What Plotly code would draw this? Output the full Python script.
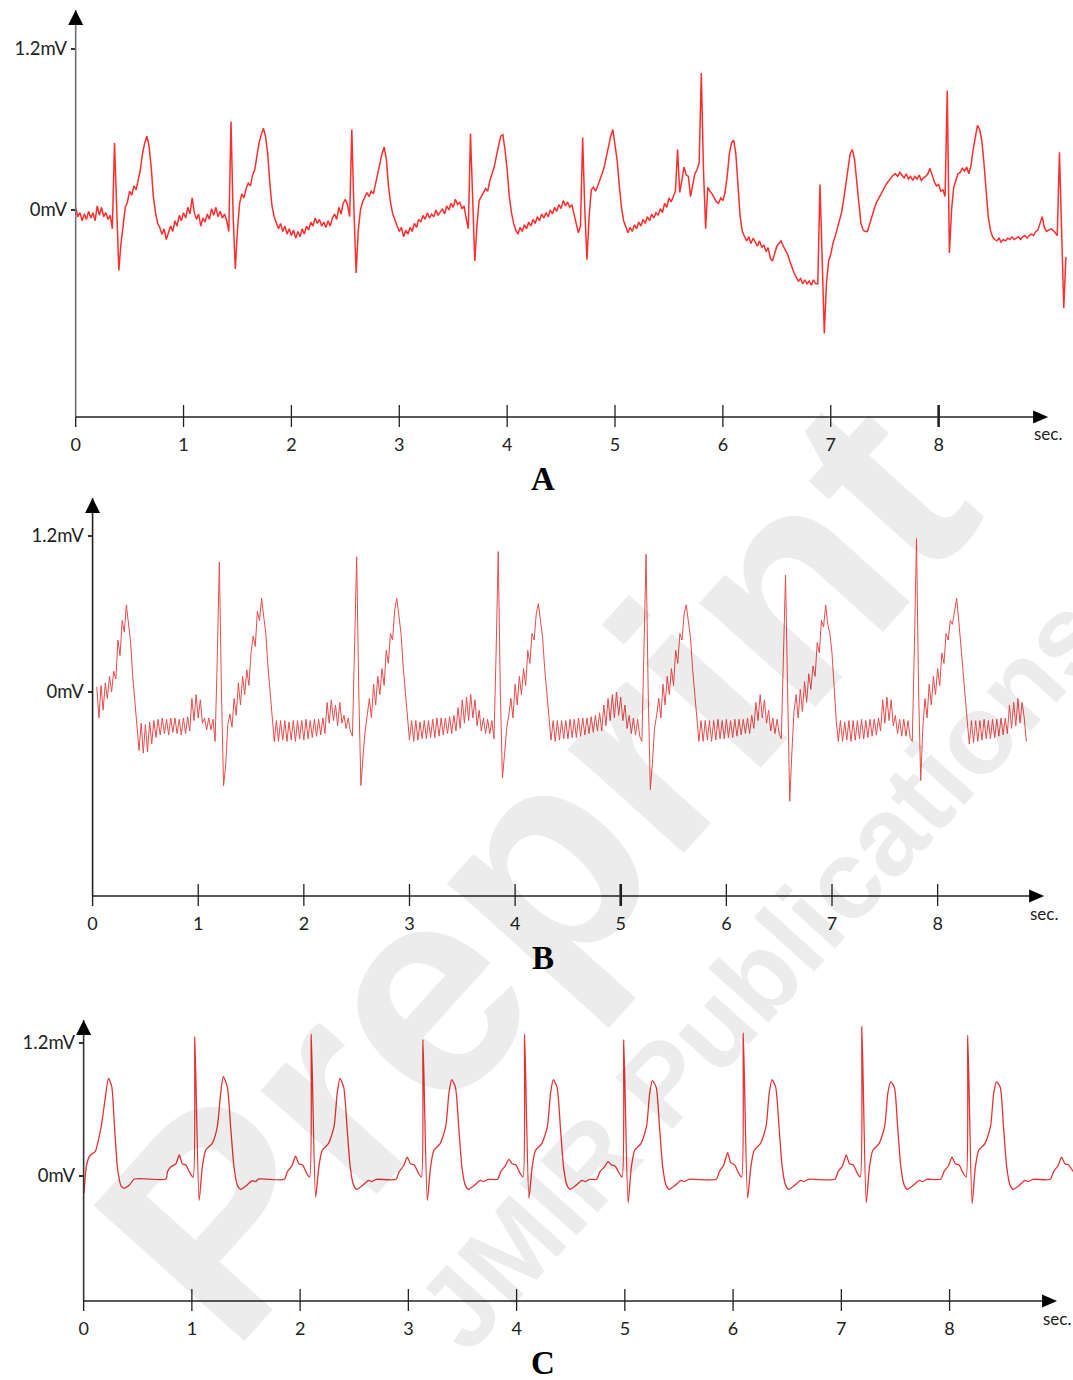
import numpy as np
import plotly.graph_objects as go

# ---------------- data (seconds, mV) ----------------
# Panel A: noisy ECG, sampled every 0.02 s starting at 0.00 s
a_start = 0.0
a_step = 0.02
a_mv = [
    0.02, -0.05, -0.02, -0.08, -0.03, -0.07, -0.01, -0.06, -0.02, -0.08,   # 0.00
    0.03, -0.04, 0.02, -0.05, -0.02, -0.07, -0.04, -0.14, 0.50, -0.02,     # 0.20
    -0.45, -0.25, -0.10, 0.02, 0.06, 0.14, 0.11, 0.18, 0.15, 0.22,         # 0.40
    0.30, 0.42, 0.50, 0.55, 0.48, 0.32, 0.10, -0.02, -0.10, -0.13,         # 0.60
    -0.18, -0.14, -0.22, -0.17, -0.12, -0.16, -0.08, -0.12, -0.04, -0.08,  # 0.80
    -0.02, -0.06, 0.02, -0.03, 0.09, -0.02, -0.07, -0.03, -0.12, -0.06,    # 1.00
    -0.09, -0.03, -0.07, 0.01, -0.04, 0.02, -0.05, -0.01, -0.06, -0.03,    # 1.20
    -0.08, -0.16, 0.66, -0.05, -0.44, -0.15, 0.05, 0.12, 0.09, 0.16,       # 1.40
    0.20, 0.18, 0.26, 0.30, 0.40, 0.50, 0.56, 0.61, 0.55, 0.42,            # 1.60
    0.20, 0.03, -0.05, -0.10, -0.14, -0.10, -0.16, -0.12, -0.18, -0.14,    # 1.80
    -0.19, -0.15, -0.21, -0.16, -0.20, -0.14, -0.18, -0.12, -0.15, -0.09,  # 2.00
    -0.12, -0.06, -0.10, -0.07, -0.12, -0.09, -0.13, -0.08, -0.12, -0.06,  # 2.20
    -0.03, -0.07, 0.02, -0.03, 0.05, 0.08, 0.04, -0.05, 0.60, 0.00,        # 2.40
    -0.47, -0.15, 0.00, 0.06, 0.10, 0.13, 0.10, 0.14, 0.12, 0.20,          # 2.60
    0.28, 0.35, 0.42, 0.47, 0.38, 0.18, 0.05, -0.03, -0.08, -0.12,         # 2.80
    -0.16, -0.13, -0.20, -0.15, -0.18, -0.13, -0.16, -0.10, -0.13, -0.07,  # 3.00
    -0.09, -0.04, -0.07, -0.02, -0.06, -0.03, -0.05, 0.00, -0.04, -0.01,   # 3.20
    0.01, -0.03, 0.03, 0.00, 0.05, 0.02, 0.08, 0.04, 0.06, 0.01,           # 3.40
    0.03, -0.06, -0.14, 0.57, 0.00, -0.38, -0.12, 0.07, 0.10, 0.13,        # 3.60
    0.16, 0.14, 0.22, 0.27, 0.32, 0.40, 0.48, 0.55, 0.56, 0.45,            # 3.80
    0.30, 0.10, -0.02, -0.10, -0.15, -0.18, -0.13, -0.16, -0.11, -0.14,    # 4.00
    -0.09, -0.12, -0.07, -0.10, -0.05, -0.08, -0.03, -0.06, -0.02, -0.05,  # 4.20
    0.00, -0.03, 0.02, -0.01, 0.04, 0.01, 0.07, 0.03, 0.06, 0.02,          # 4.40
    0.04, -0.03, -0.08, -0.17, -0.12, 0.54, 0.00, -0.37, -0.05, 0.15,      # 4.60
    0.17, 0.14, 0.18, 0.22, 0.27, 0.32, 0.40, 0.47, 0.55, 0.60,            # 4.80
    0.50, 0.37, 0.18, 0.02, -0.08, -0.13, -0.17, -0.13, -0.16, -0.11,      # 5.00
    -0.14, -0.09, -0.12, -0.07, -0.10, -0.05, -0.08, -0.03, -0.06, -0.02,  # 5.20
    -0.04, 0.01, -0.02, 0.05, 0.02, 0.09, 0.06, 0.10, 0.14, 0.45,          # 5.40
    0.13, 0.22, 0.32, 0.26, 0.25, 0.10, 0.20, 0.27, 0.30, 0.35,            # 5.60
    1.02, 0.30, -0.14, 0.17, 0.14, 0.12, 0.09, 0.06, 0.05, 0.09,           # 5.80
    0.07, 0.13, 0.25, 0.42, 0.50, 0.52, 0.42, 0.20, -0.05, -0.16,          # 6.00
    -0.19, -0.23, -0.20, -0.25, -0.21, -0.24, -0.27, -0.23, -0.28, -0.26,  # 6.20
    -0.31, -0.28, -0.36, -0.38, -0.33, -0.27, -0.25, -0.23, -0.27, -0.30,  # 6.40
    -0.33, -0.38, -0.43, -0.47, -0.50, -0.53, -0.51, -0.55, -0.52, -0.55,  # 6.60
    -0.53, -0.56, -0.52, -0.55, -0.55, 0.19, -0.35, -0.92, -0.55, -0.38,   # 6.80
    -0.33, -0.25, -0.20, -0.14, -0.08, -0.02, 0.08, 0.20, 0.32, 0.42,      # 7.00
    0.45, 0.38, 0.22, 0.05, -0.10, -0.15, -0.16, -0.16, -0.10, -0.05,      # 7.20
    0.00, 0.05, 0.08, 0.12, 0.15, 0.17, 0.20, 0.22, 0.24, 0.26,            # 7.40
    0.27, 0.25, 0.28, 0.26, 0.24, 0.27, 0.23, 0.25, 0.22, 0.25,            # 7.60
    0.23, 0.26, 0.22, 0.24, 0.25, 0.27, 0.31, 0.26, 0.21, 0.18,            # 7.80
    0.19, 0.14, 0.15, 0.10, 0.89, -0.32, 0.00, 0.17, 0.23, 0.27,           # 8.00
    0.28, 0.31, 0.29, 0.32, 0.27, 0.33, 0.45, 0.55, 0.63, 0.60,            # 8.20
    0.52, 0.35, 0.12, -0.05, -0.15, -0.20, -0.22, -0.23, -0.21, -0.24,     # 8.40
    -0.22, -0.23, -0.21, -0.22, -0.20, -0.22, -0.21, -0.20, -0.22, -0.20,  # 8.60
    -0.19, -0.21, -0.19, -0.18, -0.19, -0.16, -0.15, -0.10, -0.05, -0.13,  # 8.80
    -0.16, -0.15, -0.14, -0.15, -0.17, -0.19, 0.43, -0.25, -0.73, -0.35,   # 9.00
]

# Panel B: ECG with mains-type interference, sampled every 0.02 s starting at 0.04 s
b_start = 0.04
b_step = 0.02
b_mv = [
    0.04, -0.20, 0.05, -0.14, 0.07, -0.05, 0.12, 0.00,                     # 0.04
    0.16, 0.10, 0.40, 0.28, 0.55, 0.46, 0.67, 0.52, 0.38, 0.12,            # 0.20
    -0.05, -0.22, -0.45, -0.24, -0.47, -0.25, -0.46, -0.23, -0.40, -0.22,  # 0.40
    -0.35, -0.21, -0.33, -0.20, -0.32, -0.21, -0.33, -0.20, -0.31, -0.20,  # 0.60
    -0.32, -0.21, -0.33, -0.20, -0.32, -0.19, -0.30, -0.05, -0.22, -0.02,  # 0.80
    -0.20, -0.06, -0.24, -0.20, -0.29, -0.20, -0.29, -0.21, -0.38, 0.25,   # 1.00
    1.00, 0.00, -0.72, -0.57, -0.25, -0.17, -0.27, -0.05, -0.18, 0.07,     # 1.20
    -0.10, 0.12, -0.02, 0.17, 0.05, 0.30, 0.43, 0.35, 0.62, 0.55,          # 1.40
    0.72, 0.58, 0.45, 0.20, 0.00, -0.22, -0.38, -0.22, -0.38, -0.22,       # 1.60
    -0.37, -0.22, -0.38, -0.23, -0.37, -0.22, -0.38, -0.22, -0.36, -0.22,  # 1.80
    -0.37, -0.21, -0.36, -0.22, -0.35, -0.21, -0.34, -0.21, -0.33, -0.20,  # 2.00
    -0.32, -0.08, -0.24, -0.06, -0.22, -0.10, -0.26, -0.08, -0.24, -0.18,  # 2.20
    -0.28, -0.20, -0.30, -0.34, 0.30, 1.04, 0.00, -0.72, -0.50, -0.30,     # 2.40
    -0.18, -0.05, -0.20, 0.06, -0.10, 0.12, -0.02, 0.18, 0.05, 0.32,       # 2.60
    0.22, 0.45, 0.40, 0.63, 0.72, 0.58, 0.45, 0.20, 0.00, -0.22,           # 2.80
    -0.37, -0.22, -0.38, -0.22, -0.37, -0.23, -0.36, -0.22, -0.36, -0.22,  # 3.00
    -0.35, -0.21, -0.35, -0.20, -0.34, -0.20, -0.33, -0.20, -0.32, -0.19,  # 3.20
    -0.32, -0.18, -0.30, -0.12, -0.28, -0.06, -0.24, -0.04, -0.22, -0.02,  # 3.40
    -0.20, -0.06, -0.26, -0.14, -0.30, -0.20, -0.32, -0.21, -0.32, -0.22,  # 3.60
    -0.36, 0.30, 1.08, 0.00, -0.66, -0.48, -0.28, -0.18, -0.05, -0.20,     # 3.80
    0.06, -0.10, 0.12, -0.02, 0.18, 0.05, 0.32, 0.22, 0.45, 0.40,          # 4.00
    0.60, 0.68, 0.56, 0.42, 0.18, 0.00, -0.22, -0.37, -0.22, -0.38,        # 4.20
    -0.22, -0.37, -0.22, -0.36, -0.22, -0.36, -0.21, -0.35, -0.21, -0.35,  # 4.40
    -0.20, -0.34, -0.20, -0.33, -0.20, -0.32, -0.19, -0.31, -0.18, -0.30,  # 4.60
    -0.16, -0.30, -0.10, -0.26, -0.05, -0.22, -0.02, -0.20, 0.00, -0.18,   # 4.80
    -0.04, -0.22, -0.10, -0.28, -0.18, -0.32, -0.20, -0.33, -0.21, -0.34,  # 5.00
    -0.38, 0.30, 1.06, 0.00, -0.75, -0.55, -0.28, -0.18, -0.05, -0.20,     # 5.20
    0.06, -0.10, 0.12, -0.02, 0.18, 0.05, 0.32, 0.22, 0.45, 0.40,          # 5.40
    0.60, 0.67, 0.55, 0.42, 0.18, 0.00, -0.22, -0.38, -0.22, -0.38,        # 5.60
    -0.22, -0.37, -0.22, -0.38, -0.22, -0.37, -0.21, -0.36, -0.22, -0.36,  # 5.80
    -0.21, -0.35, -0.22, -0.35, -0.21, -0.34, -0.21, -0.33, -0.21, -0.32,  # 6.00
    -0.20, -0.32, -0.18, -0.28, -0.08, -0.22, -0.02, -0.20, -0.06, -0.24,  # 6.20
    -0.14, -0.30, -0.20, -0.32, -0.21, -0.32, -0.36, 0.25, 0.90, 0.00,     # 6.40
    -0.84, -0.47, -0.15, -0.02, -0.20, 0.02, -0.15, 0.08, -0.08, 0.14,     # 6.60
    0.02, 0.20, 0.12, 0.38, 0.30, 0.55, 0.50, 0.67, 0.52, 0.45,            # 6.80
    0.30, 0.04, -0.22, -0.38, -0.22, -0.38, -0.23, -0.37, -0.22, -0.38,    # 7.00
    -0.22, -0.37, -0.22, -0.36, -0.21, -0.36, -0.22, -0.35, -0.21, -0.34,  # 7.20
    -0.21, -0.33, -0.20, -0.30, -0.06, -0.24, -0.04, -0.22, -0.06, -0.26,  # 7.40
    -0.18, -0.32, -0.21, -0.34, -0.21, -0.34, -0.22, -0.35, -0.38, 0.35,   # 7.60
    1.18, 0.00, -0.68, -0.27, -0.05, -0.20, 0.06, -0.10, 0.12, -0.02,      # 7.80
    0.18, 0.05, 0.30, 0.22, 0.45, 0.40, 0.55, 0.52, 0.62, 0.72,            # 8.00
    0.55, 0.35, 0.12, -0.05, -0.22, -0.40, -0.22, -0.39, -0.22, -0.38,     # 8.20
    -0.22, -0.37, -0.21, -0.36, -0.22, -0.36, -0.21, -0.35, -0.21, -0.34,  # 8.40
    -0.20, -0.33, -0.20, -0.32, -0.10, -0.28, -0.08, -0.26, -0.05, -0.24,  # 8.60
    -0.08, -0.20, -0.38,                                                   # 8.80
]

# Panel C: clean synthetic ECG, (time s, value mV) points read per beat
c_t = [
    0.003, 0.025, 0.050, 0.077, 0.107, 0.162, 0.193, 0.230, 0.260, 0.285, 0.315, 0.346, 0.370, 0.423, 0.469,
    0.760, 0.775, 0.806, 0.852, 0.883, 0.913, 0.944, 0.984, 1.012, 1.027, 1.067, 1.097, 1.128, 1.189, 1.235,
    1.266, 1.290, 1.327, 1.358, 1.389, 1.419, 1.450, 1.511, 1.557, 1.587, 1.618,
    1.853, 1.883, 1.923, 1.958, 1.988, 2.023, 2.058, 2.088, 2.103, 2.143, 2.173, 2.203, 2.263, 2.313, 2.343,
    2.368, 2.403, 2.433, 2.463, 2.493, 2.523, 2.583, 2.633, 2.663, 2.703,
    2.885, 2.915, 2.955, 2.990, 3.020, 3.055, 3.090, 3.120, 3.135, 3.175, 3.205, 3.235, 3.295, 3.345, 3.375,
    3.400, 3.435, 3.465, 3.495, 3.525, 3.555, 3.615, 3.665, 3.695, 3.735,
    3.824, 3.854, 3.894, 3.929, 3.959, 3.994, 4.029, 4.059, 4.074, 4.114, 4.144, 4.174, 4.234, 4.284, 4.314,
    4.339, 4.374, 4.404, 4.434, 4.464, 4.494, 4.554, 4.604, 4.634, 4.674,
    4.740, 4.770, 4.810, 4.845, 4.875, 4.910, 4.945, 4.975, 4.990, 5.030, 5.060, 5.090, 5.150, 5.200, 5.230,
    5.255, 5.290, 5.320, 5.350, 5.380, 5.410, 5.470, 5.520, 5.550, 5.590,
    5.844, 5.874, 5.914, 5.949, 5.979, 6.014, 6.049, 6.079, 6.094, 6.134, 6.164, 6.194, 6.254, 6.304, 6.334,
    6.359, 6.394, 6.424, 6.454, 6.484, 6.514, 6.574, 6.624, 6.654, 6.694,
    6.940, 6.970, 7.010, 7.045, 7.075, 7.110, 7.145, 7.175, 7.190, 7.230, 7.260, 7.290, 7.350, 7.400, 7.430,
    7.455, 7.490, 7.520, 7.550, 7.580, 7.610, 7.670, 7.720, 7.750, 7.790,
    7.918, 7.948, 7.988, 8.023, 8.053, 8.088, 8.123, 8.153, 8.168, 8.208, 8.238, 8.268, 8.328, 8.378, 8.408,
    8.433, 8.468, 8.498, 8.528, 8.558, 8.588, 8.648, 8.698, 8.728, 8.768,
    8.930, 8.960, 9.000, 9.035, 9.065, 9.100, 9.135, 9.160,
]
c_mv = [
    -0.156, 0.084, 0.170, 0.200, 0.220, 0.445, 0.656, 0.880, 0.806, 0.445, 0.054, -0.090, -0.110, -0.081, -0.027,
    -0.027, 0.040, 0.084, 0.108, 0.190, 0.108, 0.100, 0.024, -0.010, 1.257, -0.220, 0.084, 0.235, 0.295, 0.445,
    0.746, 0.896, 0.806, 0.445, 0.084, -0.081, -0.120, -0.081, -0.042, -0.050, -0.027,
    -0.030, 0.040, 0.090, 0.180, 0.110, 0.100, 0.030, -0.010, 1.280, -0.190, 0.080, 0.230, 0.295, 0.445, 0.750,
    0.880, 0.800, 0.445, 0.080, -0.080, -0.120, -0.080, -0.040, -0.050, -0.030,
    -0.030, 0.040, 0.090, 0.170, 0.110, 0.100, 0.030, -0.010, 1.230, -0.220, 0.080, 0.230, 0.295, 0.445, 0.750,
    0.870, 0.800, 0.445, 0.080, -0.080, -0.120, -0.080, -0.040, -0.050, -0.030,
    -0.030, 0.040, 0.090, 0.150, 0.110, 0.100, 0.030, -0.010, 1.280, -0.200, 0.080, 0.230, 0.295, 0.445, 0.750,
    0.870, 0.800, 0.445, 0.080, -0.080, -0.120, -0.080, -0.040, -0.050, -0.030,
    -0.030, 0.040, 0.080, 0.130, 0.100, 0.090, 0.030, -0.010, 1.230, -0.240, 0.080, 0.230, 0.295, 0.445, 0.750,
    0.860, 0.800, 0.445, 0.080, -0.080, -0.120, -0.080, -0.040, -0.050, -0.030,
    -0.030, 0.040, 0.100, 0.210, 0.120, 0.100, 0.030, -0.010, 1.290, -0.200, 0.080, 0.230, 0.295, 0.445, 0.750,
    0.870, 0.800, 0.445, 0.080, -0.080, -0.120, -0.080, -0.040, -0.050, -0.030,
    -0.030, 0.040, 0.090, 0.190, 0.110, 0.100, 0.030, -0.010, 1.350, -0.240, 0.080, 0.230, 0.295, 0.445, 0.750,
    0.850, 0.800, 0.445, 0.080, -0.080, -0.120, -0.080, -0.040, -0.050, -0.030,
    -0.030, 0.040, 0.090, 0.170, 0.110, 0.100, 0.030, -0.010, 1.270, -0.250, 0.080, 0.230, 0.295, 0.445, 0.750,
    0.850, 0.800, 0.445, 0.080, -0.080, -0.120, -0.080, -0.040, -0.050, -0.030,
    -0.030, 0.040, 0.090, 0.170, 0.110, 0.100, 0.050, 0.020,
]

x_tick_vals = [0, 1, 2, 3, 4, 5, 6, 7, 8]
x_tick_text = ["0", "1", "2", "3", "4", "5", "6", "7", "8"]
y_tick_vals = [0.0, 1.2]
y_tick_text = ["0mV", "1.2mV"]
panel_letters = ["A", "B", "C"]
x_unit = "sec."
watermark_main = "Preprint"
watermark_sub = "JMIR Publications"

a_t = a_start + a_step * np.arange(len(a_mv))
b_t = b_start + b_step * np.arange(len(b_mv))

W, H = 1073, 1380

panels = [
    dict(t=a_t, v=a_mv, color="#ff2e2e", width=1.5, shape="linear",
         xdom=[71 / W, 1.0], xr=[0, 9.2457], ydom=[1 - 417 / H, 1 - 10 / H], yr=[-1.5428, 1.4906],
         tip=9.015, bold=8, ycol="#707070"),
    dict(t=b_t, v=b_mv, color="#ea4a4a", width=1.0, shape="linear",
         xdom=[88 / W, 1.0], xr=[0, 9.2815], ydom=[1 - 896 / H, 1 - 498 / H], yr=[-1.5692, 1.4923],
         tip=9.008, bold=5, ycol="#222222"),
    dict(t=c_t, v=c_mv, color="#e63232", width=1.3, shape="spline",
         xdom=[79 / W, 1.0], xr=[0, 9.1402], ydom=[1 - 1301 / H, 1 - 1020 / H], yr=[-1.1278, 1.4075],
         tip=8.993, bold=None, ycol="#333333"),
]

TICK_FONT = dict(family="Lato, Open Sans, sans-serif", size=18, color="#222222")
AXIS_COL = "#222222"

fig = go.Figure()
shapes = []
annotations = []
layout_axes = {}

for i, p in enumerate(panels):
    n = "" if i == 0 else str(i + 1)
    xa, ya = "x" + n, "y" + n
    fig.add_trace(go.Scatter(
        x=p["t"], y=p["v"], mode="lines",
        line=dict(color=p["color"], width=p["width"], shape=p["shape"], smoothing=0.6),
        xaxis=xa, yaxis=ya, hoverinfo="skip", showlegend=False))
    layout_axes["xaxis" + n] = dict(
        domain=p["xdom"], range=p["xr"], anchor=ya, showgrid=False, zeroline=False,
        showline=False, tickmode="array", tickvals=x_tick_vals, ticktext=x_tick_text,
        ticks="outside", ticklen=11, tickcolor="rgba(0,0,0,0)", tickfont=TICK_FONT,
        fixedrange=True)
    layout_axes["yaxis" + n] = dict(
        domain=p["ydom"], range=p["yr"], anchor=xa, showgrid=False, zeroline=False,
        showline=False, tickmode="array", tickvals=y_tick_vals, ticktext=y_tick_text,
        ticks="outside", ticklen=4, tickwidth=1.2, tickcolor="#333333",
        tickfont=dict(family="Lato, Open Sans, sans-serif", size=18.5, color="#222222"),
        fixedrange=True)

    # y axis line (with short extension below the x axis)
    shapes.append(dict(type="line", xref=xa + " domain", yref=ya + " domain",
                       x0=0, x1=0, y0=0, y1=1, line=dict(color=p["ycol"], width=1.6)))
    shapes.append(dict(type="line", xref=xa + " domain", yref=ya + " domain",
                       x0=0, x1=0, ysizemode="pixel", yanchor=0, y0=-10, y1=0,
                       line=dict(color=AXIS_COL, width=1.4)))
    # y arrow head
    shapes.append(dict(type="path", xref=xa + " domain", yref=ya + " domain",
                       xsizemode="pixel", ysizemode="pixel", xanchor=0, yanchor=1,
                       path="M -7.5,-15 L 7.5,-15 L 0,0 Z",
                       fillcolor="#000000", line=dict(width=0)))
    # x axis line + arrow head
    shapes.append(dict(type="line", xref=xa, yref=ya + " domain",
                       x0=0, x1=p["tip"] - 0.05, y0=0, y1=0, line=dict(color=AXIS_COL, width=1.4)))
    shapes.append(dict(type="path", xref=xa, yref=ya + " domain",
                       xsizemode="pixel", ysizemode="pixel", xanchor=p["tip"], yanchor=0,
                       path="M -15,-6.5 L -15,6.5 L 0,0 Z",
                       fillcolor="#000000", line=dict(width=0)))
    # x ticks crossing the axis
    for k in x_tick_vals[1:]:
        w = 2.6 if p["bold"] == k else 1.3
        shapes.append(dict(type="line", xref=xa, yref=ya + " domain",
                           x0=k, x1=k, ysizemode="pixel", yanchor=0, y0=-10, y1=12,
                           line=dict(color=AXIS_COL, width=w)))
    # unit label and panel letter
    annotations.append(dict(text=x_unit, xref=xa, yref=ya + " domain", x=p["tip"], y=0,
                            yshift=-17, showarrow=False, xanchor="center", yanchor="middle",
                            font=dict(family="Lato, Open Sans, sans-serif", size=17, color="#222222")))
    annotations.append(dict(text="<b>%s</b>" % panel_letters[i], xref="paper", yref=ya + " domain",
                            x=541 / W, y=0, yshift=-62, showarrow=False,
                            xanchor="center", yanchor="middle",
                            font=dict(family="Liberation Serif, serif", size=33, color="#000000")))

# watermark
annotations.append(dict(text="<b>%s</b>" % watermark_main, xref="paper", yref="paper",
                        x=532 / W, y=1 - 868 / H, showarrow=False, textangle=-48,
                        xanchor="center", yanchor="middle",
                        font=dict(family="Liberation Sans, Arial, sans-serif", size=295,
                                  color="rgba(0,0,0,0.075)")))
annotations.append(dict(text="<b>%s</b>" % watermark_sub, xref="paper", yref="paper",
                        x=760 / W, y=1 - 972 / H, showarrow=False, textangle=-48,
                        xanchor="center", yanchor="middle",
                        font=dict(family="Liberation Sans, Arial, sans-serif", size=112,
                                  color="rgba(0,0,0,0.075)")))

fig.update_layout(
    width=W, height=H, margin=dict(l=0, r=0, t=0, b=0),
    paper_bgcolor="#ffffff", plot_bgcolor="rgba(0,0,0,0)",
    shapes=shapes, annotations=annotations, showlegend=False,
    **layout_axes)

fig.write_html("out.html",
               config={"displayModeBar": False, "staticPlot": True},
               post_script="document.body.style.margin='0';document.body.style.overflow='hidden';")
